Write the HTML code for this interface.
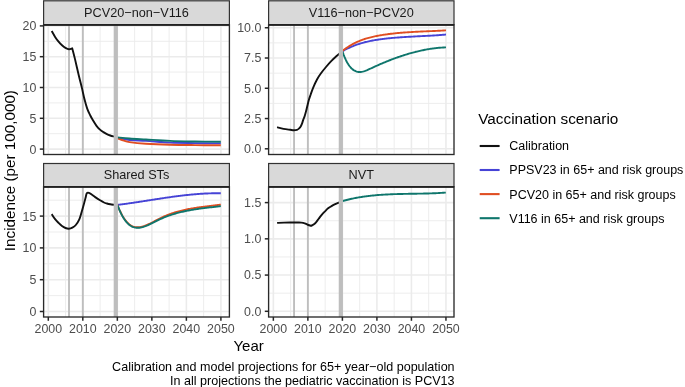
<!DOCTYPE html>
<html><head><meta charset="utf-8"><style>
html,body{margin:0;padding:0;background:#fff;width:685px;height:387px;overflow:hidden}
svg{filter:blur(0.3px)}
svg text{font-family:"Liberation Sans", sans-serif}
</style></head><body>
<svg width="685" height="387" viewBox="0 0 685 387" style="position:absolute;left:0;top:0">
<rect x="0" y="0" width="685" height="387" fill="#FFFFFF"/>
<clipPath id="clip00"><rect x="43.6" y="24.8" width="185.8" height="129.7"/></clipPath>
<g clip-path="url(#clip00)">
<line x1="43.6" x2="229.4" y1="133.70" y2="133.70" stroke="#EBEBEB" stroke-width="0.9"/>
<line x1="43.6" x2="229.4" y1="102.90" y2="102.90" stroke="#EBEBEB" stroke-width="0.9"/>
<line x1="43.6" x2="229.4" y1="72.10" y2="72.10" stroke="#EBEBEB" stroke-width="0.9"/>
<line x1="43.6" x2="229.4" y1="41.30" y2="41.30" stroke="#EBEBEB" stroke-width="0.9"/>
<line x1="65.56" x2="65.56" y1="24.8" y2="154.5" stroke="#EBEBEB" stroke-width="0.9"/>
<line x1="100.08" x2="100.08" y1="24.8" y2="154.5" stroke="#EBEBEB" stroke-width="0.9"/>
<line x1="134.60" x2="134.60" y1="24.8" y2="154.5" stroke="#EBEBEB" stroke-width="0.9"/>
<line x1="169.12" x2="169.12" y1="24.8" y2="154.5" stroke="#EBEBEB" stroke-width="0.9"/>
<line x1="203.64" x2="203.64" y1="24.8" y2="154.5" stroke="#EBEBEB" stroke-width="0.9"/>
<line x1="43.6" x2="229.4" y1="149.10" y2="149.10" stroke="#EBEBEB" stroke-width="1.6"/>
<line x1="43.6" x2="229.4" y1="118.30" y2="118.30" stroke="#EBEBEB" stroke-width="1.6"/>
<line x1="43.6" x2="229.4" y1="87.50" y2="87.50" stroke="#EBEBEB" stroke-width="1.6"/>
<line x1="43.6" x2="229.4" y1="56.70" y2="56.70" stroke="#EBEBEB" stroke-width="1.6"/>
<line x1="43.6" x2="229.4" y1="25.90" y2="25.90" stroke="#EBEBEB" stroke-width="1.6"/>
<line x1="48.30" x2="48.30" y1="24.8" y2="154.5" stroke="#EBEBEB" stroke-width="1.6"/>
<line x1="82.82" x2="82.82" y1="24.8" y2="154.5" stroke="#EBEBEB" stroke-width="1.6"/>
<line x1="117.34" x2="117.34" y1="24.8" y2="154.5" stroke="#EBEBEB" stroke-width="1.6"/>
<line x1="151.86" x2="151.86" y1="24.8" y2="154.5" stroke="#EBEBEB" stroke-width="1.6"/>
<line x1="186.38" x2="186.38" y1="24.8" y2="154.5" stroke="#EBEBEB" stroke-width="1.6"/>
<line x1="220.90" x2="220.90" y1="24.8" y2="154.5" stroke="#EBEBEB" stroke-width="1.6"/>
<line x1="69.01" x2="69.01" y1="24.8" y2="154.5" stroke="#BEBEBE" stroke-width="1.9"/>
<line x1="82.82" x2="82.82" y1="24.8" y2="154.5" stroke="#BEBEBE" stroke-width="1.9"/>
<path d="M51.70,31.00 C52.27,31.98 53.96,35.13 55.10,36.90 C56.24,38.67 57.41,40.20 58.56,41.60 C59.71,43.00 60.85,44.25 62.00,45.30 C63.15,46.35 64.31,47.23 65.46,47.90 C66.61,48.57 67.78,49.23 68.90,49.30 C70.02,49.37 71.65,48.47 72.20,48.30 L72.20,48.30 C72.67,50.10 73.90,54.57 75.00,59.10 C76.10,63.63 77.65,70.70 78.80,75.50 C79.95,80.30 80.95,83.93 81.90,87.90 C82.85,91.87 83.62,95.85 84.50,99.30 C85.38,102.75 86.23,105.90 87.20,108.60 C88.17,111.30 89.32,113.50 90.30,115.50 C91.28,117.50 92.07,118.88 93.10,120.60 C94.13,122.32 95.35,124.30 96.50,125.80 C97.65,127.30 98.85,128.55 100.00,129.60 C101.15,130.65 102.25,131.35 103.40,132.10 C104.55,132.85 105.75,133.53 106.90,134.10 C108.05,134.67 109.12,135.08 110.30,135.50 C111.48,135.92 113.38,136.42 114.00,136.60" fill="none" stroke="#111111" stroke-width="1.9" stroke-linejoin="round" stroke-linecap="butt"/>
<path d="M117.50,137.90 C119.50,138.25 124.75,139.50 129.50,140.00 C134.25,140.50 139.25,140.47 146.00,140.90 C152.75,141.33 161.83,142.23 170.00,142.60 C178.17,142.97 186.53,142.97 195.00,143.10 C203.47,143.23 216.50,143.35 220.80,143.40" fill="none" stroke="#4643D6" stroke-width="1.9" stroke-linejoin="round" stroke-linecap="butt"/>
<path d="M117.50,138.30 C118.58,138.68 122.00,139.97 124.00,140.60 C126.00,141.23 125.83,141.58 129.50,142.10 C133.17,142.62 139.25,143.27 146.00,143.70 C152.75,144.13 161.83,144.47 170.00,144.70 C178.17,144.93 186.53,145.00 195.00,145.10 C203.47,145.20 216.50,145.27 220.80,145.30" fill="none" stroke="#E04E22" stroke-width="1.9" stroke-linejoin="round" stroke-linecap="butt"/>
<path d="M117.50,137.40 C119.50,137.58 124.75,138.15 129.50,138.50 C134.25,138.85 139.25,139.10 146.00,139.50 C152.75,139.90 161.83,140.57 170.00,140.90 C178.17,141.23 186.53,141.35 195.00,141.50 C203.47,141.65 216.50,141.75 220.80,141.80" fill="none" stroke="#0F766C" stroke-width="1.9" stroke-linejoin="round" stroke-linecap="butt"/>
<rect x="113.69" y="24.8" width="4.2" height="129.7" fill="#BEBEBE"/>
</g>
<rect x="43.6" y="24.8" width="185.80" height="129.70" fill="none" stroke="#2A2A2A" stroke-width="1.35"/>
<rect x="43.6" y="0.8" width="185.80" height="24.00" fill="#D9D9D9" stroke="#333333" stroke-width="1.2"/>
<line x1="43.6" x2="229.4" y1="24.8" y2="24.8" stroke="#222222" stroke-width="1.8"/>
<text x="136.50" y="16.90" text-anchor="middle" font-size="12.7" fill="#1A1A1A">PCV20−non−V116</text>
<line x1="39.80" x2="43.6" y1="149.10" y2="149.10" stroke="#262626" stroke-width="1.5"/>
<text x="36.30" y="153.50" text-anchor="end" font-size="12.4" fill="#4D4D4D">0</text>
<line x1="39.80" x2="43.6" y1="118.30" y2="118.30" stroke="#262626" stroke-width="1.5"/>
<text x="36.30" y="122.70" text-anchor="end" font-size="12.4" fill="#4D4D4D">5</text>
<line x1="39.80" x2="43.6" y1="87.50" y2="87.50" stroke="#262626" stroke-width="1.5"/>
<text x="36.30" y="91.90" text-anchor="end" font-size="12.4" fill="#4D4D4D">10</text>
<line x1="39.80" x2="43.6" y1="56.70" y2="56.70" stroke="#262626" stroke-width="1.5"/>
<text x="36.30" y="61.10" text-anchor="end" font-size="12.4" fill="#4D4D4D">15</text>
<line x1="39.80" x2="43.6" y1="25.90" y2="25.90" stroke="#262626" stroke-width="1.5"/>
<text x="36.30" y="30.30" text-anchor="end" font-size="12.4" fill="#4D4D4D">20</text>
<clipPath id="clip01"><rect x="268.6" y="24.8" width="185.39999999999998" height="129.7"/></clipPath>
<g clip-path="url(#clip01)">
<line x1="268.6" x2="454.0" y1="133.67" y2="133.67" stroke="#EBEBEB" stroke-width="0.9"/>
<line x1="268.6" x2="454.0" y1="103.41" y2="103.41" stroke="#EBEBEB" stroke-width="0.9"/>
<line x1="268.6" x2="454.0" y1="73.14" y2="73.14" stroke="#EBEBEB" stroke-width="0.9"/>
<line x1="268.6" x2="454.0" y1="42.88" y2="42.88" stroke="#EBEBEB" stroke-width="0.9"/>
<line x1="290.61" x2="290.61" y1="24.8" y2="154.5" stroke="#EBEBEB" stroke-width="0.9"/>
<line x1="325.13" x2="325.13" y1="24.8" y2="154.5" stroke="#EBEBEB" stroke-width="0.9"/>
<line x1="359.65" x2="359.65" y1="24.8" y2="154.5" stroke="#EBEBEB" stroke-width="0.9"/>
<line x1="394.17" x2="394.17" y1="24.8" y2="154.5" stroke="#EBEBEB" stroke-width="0.9"/>
<line x1="428.69" x2="428.69" y1="24.8" y2="154.5" stroke="#EBEBEB" stroke-width="0.9"/>
<line x1="268.6" x2="454.0" y1="148.80" y2="148.80" stroke="#EBEBEB" stroke-width="1.6"/>
<line x1="268.6" x2="454.0" y1="118.54" y2="118.54" stroke="#EBEBEB" stroke-width="1.6"/>
<line x1="268.6" x2="454.0" y1="88.28" y2="88.28" stroke="#EBEBEB" stroke-width="1.6"/>
<line x1="268.6" x2="454.0" y1="58.01" y2="58.01" stroke="#EBEBEB" stroke-width="1.6"/>
<line x1="268.6" x2="454.0" y1="27.75" y2="27.75" stroke="#EBEBEB" stroke-width="1.6"/>
<line x1="273.35" x2="273.35" y1="24.8" y2="154.5" stroke="#EBEBEB" stroke-width="1.6"/>
<line x1="307.87" x2="307.87" y1="24.8" y2="154.5" stroke="#EBEBEB" stroke-width="1.6"/>
<line x1="342.39" x2="342.39" y1="24.8" y2="154.5" stroke="#EBEBEB" stroke-width="1.6"/>
<line x1="376.91" x2="376.91" y1="24.8" y2="154.5" stroke="#EBEBEB" stroke-width="1.6"/>
<line x1="411.43" x2="411.43" y1="24.8" y2="154.5" stroke="#EBEBEB" stroke-width="1.6"/>
<line x1="445.95" x2="445.95" y1="24.8" y2="154.5" stroke="#EBEBEB" stroke-width="1.6"/>
<line x1="294.06" x2="294.06" y1="24.8" y2="154.5" stroke="#BEBEBE" stroke-width="1.9"/>
<line x1="307.87" x2="307.87" y1="24.8" y2="154.5" stroke="#BEBEBE" stroke-width="1.9"/>
<path d="M277.10,127.20 C278.17,127.48 281.32,128.47 283.50,128.90 C285.68,129.33 288.47,129.58 290.20,129.80 C291.93,130.02 292.77,130.20 293.90,130.20 C295.03,130.20 296.17,130.07 297.00,129.80 C297.83,129.53 298.28,129.17 298.90,128.60 C299.52,128.03 300.18,127.23 300.70,126.40 C301.22,125.57 301.58,124.68 302.00,123.60 C302.42,122.52 302.78,121.07 303.20,119.90 C303.62,118.73 304.08,117.83 304.50,116.60 C304.92,115.37 305.32,113.90 305.70,112.50 C306.08,111.10 306.30,110.20 306.80,108.20 C307.30,106.20 308.07,102.75 308.70,100.50 C309.33,98.25 309.85,96.85 310.60,94.70 C311.35,92.55 312.13,90.13 313.20,87.60 C314.27,85.07 315.73,81.85 317.00,79.50 C318.27,77.15 319.30,75.58 320.80,73.50 C322.30,71.42 324.27,69.05 326.00,67.00 C327.73,64.95 329.48,62.98 331.20,61.20 C332.92,59.42 334.90,57.58 336.30,56.30 C337.70,55.02 338.73,54.22 339.60,53.50 C340.47,52.78 341.18,52.25 341.50,52.00" fill="none" stroke="#111111" stroke-width="1.9" stroke-linejoin="round" stroke-linecap="butt"/>
<path d="M342.60,51.15 L343.60,50.59 L344.61,50.04 L345.61,49.51 L346.62,48.99 L347.62,48.50 L348.62,48.02 L349.63,47.55 L350.63,47.11 L351.63,46.67 L352.64,46.26 L353.64,45.85 L354.65,45.46 L355.65,45.09 L356.65,44.73 L357.66,44.38 L358.66,44.05 L359.67,43.73 L360.67,43.42 L361.67,43.12 L362.68,42.83 L363.68,42.56 L364.69,42.29 L365.69,42.04 L366.69,41.80 L367.70,41.56 L368.70,41.34 L369.70,41.12 L370.71,40.92 L371.71,40.72 L372.72,40.53 L373.72,40.35 L374.72,40.17 L375.73,40.00 L376.73,39.84 L377.74,39.69 L378.74,39.54 L379.74,39.39 L380.75,39.26 L381.75,39.12 L382.76,39.00 L383.76,38.87 L384.76,38.75 L385.77,38.63 L386.77,38.52 L387.77,38.41 L388.78,38.31 L389.78,38.21 L390.79,38.11 L391.79,38.01 L392.79,37.92 L393.80,37.83 L394.80,37.75 L395.81,37.67 L396.81,37.59 L397.81,37.51 L398.82,37.43 L399.82,37.36 L400.83,37.29 L401.83,37.22 L402.83,37.16 L403.84,37.09 L404.84,37.03 L405.84,36.97 L406.85,36.91 L407.85,36.85 L408.86,36.79 L409.86,36.74 L410.86,36.68 L411.87,36.63 L412.87,36.58 L413.88,36.53 L414.88,36.48 L415.88,36.42 L416.89,36.37 L417.89,36.32 L418.90,36.27 L419.90,36.22 L420.90,36.17 L421.91,36.12 L422.91,36.07 L423.91,36.02 L424.92,35.97 L425.92,35.92 L426.93,35.87 L427.93,35.81 L428.93,35.76 L429.94,35.70 L430.94,35.64 L431.95,35.59 L432.95,35.53 L433.95,35.46 L434.96,35.40 L435.96,35.34 L436.97,35.27 L437.97,35.20 L438.97,35.13 L439.98,35.05 L440.98,34.98 L441.98,34.90 L442.99,34.82 L443.99,34.74 L445.00,34.65 L446.00,34.56" fill="none" stroke="#4643D6" stroke-width="1.9" stroke-linejoin="round" stroke-linecap="butt"/>
<path d="M342.60,50.86 L343.60,50.07 L344.61,49.32 L345.61,48.59 L346.62,47.88 L347.62,47.21 L348.62,46.55 L349.63,45.92 L350.63,45.32 L351.63,44.74 L352.64,44.18 L353.64,43.64 L354.65,43.13 L355.65,42.63 L356.65,42.16 L357.66,41.70 L358.66,41.27 L359.67,40.85 L360.67,40.45 L361.67,40.07 L362.68,39.70 L363.68,39.35 L364.69,39.02 L365.69,38.70 L366.69,38.39 L367.70,38.10 L368.70,37.82 L369.70,37.55 L370.71,37.30 L371.71,37.06 L372.72,36.82 L373.72,36.60 L374.72,36.38 L375.73,36.18 L376.73,35.98 L377.74,35.79 L378.74,35.60 L379.74,35.43 L380.75,35.26 L381.75,35.09 L382.76,34.93 L383.76,34.77 L384.76,34.62 L385.77,34.47 L386.77,34.33 L387.77,34.20 L388.78,34.06 L389.78,33.94 L390.79,33.81 L391.79,33.69 L392.79,33.58 L393.80,33.47 L394.80,33.36 L395.81,33.26 L396.81,33.16 L397.81,33.06 L398.82,32.97 L399.82,32.88 L400.83,32.79 L401.83,32.71 L402.83,32.63 L403.84,32.55 L404.84,32.47 L405.84,32.40 L406.85,32.33 L407.85,32.27 L408.86,32.20 L409.86,32.14 L410.86,32.08 L411.87,32.02 L412.87,31.96 L413.88,31.91 L414.88,31.85 L415.88,31.80 L416.89,31.75 L417.89,31.70 L418.90,31.65 L419.90,31.60 L420.90,31.56 L421.91,31.51 L422.91,31.47 L423.91,31.42 L424.92,31.38 L425.92,31.34 L426.93,31.29 L427.93,31.25 L428.93,31.21 L429.94,31.16 L430.94,31.12 L431.95,31.08 L432.95,31.03 L433.95,30.99 L434.96,30.94 L435.96,30.89 L436.97,30.85 L437.97,30.80 L438.97,30.75 L439.98,30.70 L440.98,30.65 L441.98,30.59 L442.99,30.54 L443.99,30.48 L445.00,30.42 L446.00,30.36" fill="none" stroke="#E04E22" stroke-width="1.9" stroke-linejoin="round" stroke-linecap="butt"/>
<path d="M342.60,51.75 L343.60,54.58 L344.61,57.13 L345.61,59.41 L346.62,61.46 L347.62,63.27 L348.62,64.87 L349.63,66.26 L350.63,67.47 L351.63,68.51 L352.64,69.39 L353.64,70.12 L354.65,70.72 L355.65,71.20 L356.65,71.55 L357.66,71.80 L358.66,71.94 L359.67,71.98 L360.67,71.94 L361.67,71.82 L362.68,71.63 L363.68,71.38 L364.69,71.07 L365.69,70.71 L366.69,70.32 L367.70,69.89 L368.70,69.44 L369.70,68.98 L370.71,68.51 L371.71,68.04 L372.72,67.57 L373.72,67.11 L374.72,66.65 L375.73,66.20 L376.73,65.74 L377.74,65.30 L378.74,64.85 L379.74,64.41 L380.75,63.98 L381.75,63.55 L382.76,63.12 L383.76,62.70 L384.76,62.28 L385.77,61.87 L386.77,61.46 L387.77,61.05 L388.78,60.65 L389.78,60.26 L390.79,59.86 L391.79,59.48 L392.79,59.10 L393.80,58.72 L394.80,58.35 L395.81,57.98 L396.81,57.62 L397.81,57.26 L398.82,56.91 L399.82,56.57 L400.83,56.23 L401.83,55.89 L402.83,55.56 L403.84,55.24 L404.84,54.92 L405.84,54.60 L406.85,54.30 L407.85,53.99 L408.86,53.70 L409.86,53.41 L410.86,53.12 L411.87,52.84 L412.87,52.57 L413.88,52.31 L414.88,52.05 L415.88,51.79 L416.89,51.55 L417.89,51.30 L418.90,51.07 L419.90,50.84 L420.90,50.62 L421.91,50.40 L422.91,50.20 L423.91,49.99 L424.92,49.80 L425.92,49.61 L426.93,49.43 L427.93,49.26 L428.93,49.09 L429.94,48.93 L430.94,48.78 L431.95,48.63 L432.95,48.49 L433.95,48.36 L434.96,48.24 L435.96,48.12 L436.97,48.01 L437.97,47.91 L438.97,47.82 L439.98,47.73 L440.98,47.65 L441.98,47.58 L442.99,47.52 L443.99,47.47 L445.00,47.42 L446.00,47.38" fill="none" stroke="#0F766C" stroke-width="1.9" stroke-linejoin="round" stroke-linecap="butt"/>
<rect x="338.74" y="24.8" width="4.2" height="129.7" fill="#BEBEBE"/>
</g>
<rect x="268.6" y="24.8" width="185.40" height="129.70" fill="none" stroke="#2A2A2A" stroke-width="1.35"/>
<rect x="268.6" y="0.8" width="185.40" height="24.00" fill="#D9D9D9" stroke="#333333" stroke-width="1.2"/>
<line x1="268.6" x2="454.0" y1="24.8" y2="24.8" stroke="#222222" stroke-width="1.8"/>
<text x="361.30" y="16.90" text-anchor="middle" font-size="12.7" fill="#1A1A1A">V116−non−PCV20</text>
<line x1="264.80" x2="268.6" y1="148.80" y2="148.80" stroke="#262626" stroke-width="1.5"/>
<text x="261.30" y="153.20" text-anchor="end" font-size="12.4" fill="#4D4D4D">0.0</text>
<line x1="264.80" x2="268.6" y1="118.54" y2="118.54" stroke="#262626" stroke-width="1.5"/>
<text x="261.30" y="122.94" text-anchor="end" font-size="12.4" fill="#4D4D4D">2.5</text>
<line x1="264.80" x2="268.6" y1="88.28" y2="88.28" stroke="#262626" stroke-width="1.5"/>
<text x="261.30" y="92.68" text-anchor="end" font-size="12.4" fill="#4D4D4D">5.0</text>
<line x1="264.80" x2="268.6" y1="58.01" y2="58.01" stroke="#262626" stroke-width="1.5"/>
<text x="261.30" y="62.41" text-anchor="end" font-size="12.4" fill="#4D4D4D">7.5</text>
<line x1="264.80" x2="268.6" y1="27.75" y2="27.75" stroke="#262626" stroke-width="1.5"/>
<text x="261.30" y="32.15" text-anchor="end" font-size="12.4" fill="#4D4D4D">10.0</text>
<clipPath id="clip10"><rect x="43.6" y="186.8" width="185.8" height="130.2"/></clipPath>
<g clip-path="url(#clip10)">
<line x1="43.6" x2="229.4" y1="295.60" y2="295.60" stroke="#EBEBEB" stroke-width="0.9"/>
<line x1="43.6" x2="229.4" y1="263.80" y2="263.80" stroke="#EBEBEB" stroke-width="0.9"/>
<line x1="43.6" x2="229.4" y1="232.00" y2="232.00" stroke="#EBEBEB" stroke-width="0.9"/>
<line x1="43.6" x2="229.4" y1="200.20" y2="200.20" stroke="#EBEBEB" stroke-width="0.9"/>
<line x1="65.56" x2="65.56" y1="186.8" y2="317.0" stroke="#EBEBEB" stroke-width="0.9"/>
<line x1="100.08" x2="100.08" y1="186.8" y2="317.0" stroke="#EBEBEB" stroke-width="0.9"/>
<line x1="134.60" x2="134.60" y1="186.8" y2="317.0" stroke="#EBEBEB" stroke-width="0.9"/>
<line x1="169.12" x2="169.12" y1="186.8" y2="317.0" stroke="#EBEBEB" stroke-width="0.9"/>
<line x1="203.64" x2="203.64" y1="186.8" y2="317.0" stroke="#EBEBEB" stroke-width="0.9"/>
<line x1="43.6" x2="229.4" y1="311.50" y2="311.50" stroke="#EBEBEB" stroke-width="1.6"/>
<line x1="43.6" x2="229.4" y1="279.70" y2="279.70" stroke="#EBEBEB" stroke-width="1.6"/>
<line x1="43.6" x2="229.4" y1="247.90" y2="247.90" stroke="#EBEBEB" stroke-width="1.6"/>
<line x1="43.6" x2="229.4" y1="216.10" y2="216.10" stroke="#EBEBEB" stroke-width="1.6"/>
<line x1="48.30" x2="48.30" y1="186.8" y2="317.0" stroke="#EBEBEB" stroke-width="1.6"/>
<line x1="82.82" x2="82.82" y1="186.8" y2="317.0" stroke="#EBEBEB" stroke-width="1.6"/>
<line x1="117.34" x2="117.34" y1="186.8" y2="317.0" stroke="#EBEBEB" stroke-width="1.6"/>
<line x1="151.86" x2="151.86" y1="186.8" y2="317.0" stroke="#EBEBEB" stroke-width="1.6"/>
<line x1="186.38" x2="186.38" y1="186.8" y2="317.0" stroke="#EBEBEB" stroke-width="1.6"/>
<line x1="220.90" x2="220.90" y1="186.8" y2="317.0" stroke="#EBEBEB" stroke-width="1.6"/>
<line x1="69.01" x2="69.01" y1="186.8" y2="317.0" stroke="#BEBEBE" stroke-width="1.9"/>
<line x1="82.82" x2="82.82" y1="186.8" y2="317.0" stroke="#BEBEBE" stroke-width="1.9"/>
<path d="M51.70,214.10 C52.27,214.95 53.96,217.73 55.10,219.20 C56.24,220.67 57.41,221.77 58.56,222.90 C59.71,224.03 60.85,225.15 62.00,226.00 C63.15,226.85 64.31,227.55 65.46,228.00 C66.61,228.45 67.74,228.77 68.90,228.70 C70.06,228.63 71.25,228.22 72.40,227.60 C73.55,226.98 74.65,226.38 75.80,225.00 C76.95,223.62 78.35,221.38 79.30,219.30 C80.25,217.22 80.80,214.78 81.50,212.50 C82.20,210.22 82.83,208.02 83.50,205.60 C84.17,203.18 84.95,200.05 85.50,198.00 C86.05,195.95 86.22,194.15 86.80,193.30 C87.38,192.45 88.13,192.67 89.00,192.90 C89.87,193.13 90.97,194.00 92.00,194.70 C93.03,195.40 93.87,196.18 95.20,197.10 C96.53,198.02 98.53,199.30 100.00,200.20 C101.47,201.10 102.85,201.95 104.00,202.50 C105.15,203.05 105.85,203.20 106.90,203.50 C107.95,203.80 109.12,204.08 110.30,204.30 C111.48,204.52 113.38,204.72 114.00,204.80" fill="none" stroke="#111111" stroke-width="1.9" stroke-linejoin="round" stroke-linecap="butt"/>
<path d="M117.50,204.90 L118.50,204.78 L119.51,204.65 L120.51,204.52 L121.51,204.39 L122.51,204.26 L123.52,204.13 L124.52,203.99 L125.52,203.85 L126.53,203.71 L127.53,203.57 L128.53,203.43 L129.53,203.29 L130.54,203.14 L131.54,203.00 L132.54,202.85 L133.55,202.70 L134.55,202.55 L135.55,202.40 L136.56,202.25 L137.56,202.10 L138.56,201.95 L139.56,201.79 L140.57,201.64 L141.57,201.49 L142.57,201.33 L143.58,201.17 L144.58,201.02 L145.58,200.86 L146.58,200.71 L147.59,200.55 L148.59,200.39 L149.59,200.24 L150.60,200.08 L151.60,199.92 L152.60,199.77 L153.60,199.61 L154.61,199.46 L155.61,199.30 L156.61,199.15 L157.62,198.99 L158.62,198.84 L159.62,198.69 L160.63,198.53 L161.63,198.38 L162.63,198.23 L163.63,198.08 L164.64,197.93 L165.64,197.79 L166.64,197.64 L167.65,197.49 L168.65,197.35 L169.65,197.21 L170.65,197.07 L171.66,196.93 L172.66,196.79 L173.66,196.65 L174.67,196.52 L175.67,196.38 L176.67,196.25 L177.67,196.12 L178.68,195.99 L179.68,195.87 L180.68,195.74 L181.69,195.62 L182.69,195.50 L183.69,195.39 L184.70,195.27 L185.70,195.16 L186.70,195.05 L187.70,194.94 L188.71,194.84 L189.71,194.74 L190.71,194.64 L191.72,194.54 L192.72,194.45 L193.72,194.36 L194.72,194.27 L195.73,194.18 L196.73,194.10 L197.73,194.02 L198.74,193.95 L199.74,193.88 L200.74,193.81 L201.74,193.75 L202.75,193.68 L203.75,193.63 L204.75,193.57 L205.76,193.52 L206.76,193.48 L207.76,193.44 L208.77,193.40 L209.77,193.36 L210.77,193.33 L211.77,193.31 L212.78,193.28 L213.78,193.27 L214.78,193.25 L215.79,193.25 L216.79,193.24 L217.79,193.24 L218.79,193.25 L219.80,193.26 L220.80,193.27" fill="none" stroke="#4643D6" stroke-width="1.9" stroke-linejoin="round" stroke-linecap="butt"/>
<path d="M117.50,204.95 L118.50,207.50 L119.51,209.86 L120.51,212.03 L121.51,214.04 L122.51,215.87 L123.52,217.54 L124.52,219.06 L125.52,220.42 L126.53,221.64 L127.53,222.72 L128.53,223.67 L129.53,224.49 L130.54,225.20 L131.54,225.79 L132.54,226.27 L133.55,226.65 L134.55,226.93 L135.55,227.13 L136.56,227.24 L137.56,227.28 L138.56,227.24 L139.56,227.14 L140.57,226.98 L141.57,226.77 L142.57,226.51 L143.58,226.21 L144.58,225.87 L145.58,225.50 L146.58,225.10 L147.59,224.67 L148.59,224.22 L149.59,223.75 L150.60,223.26 L151.60,222.76 L152.60,222.24 L153.60,221.72 L154.61,221.19 L155.61,220.66 L156.61,220.13 L157.62,219.60 L158.62,219.08 L159.62,218.57 L160.63,218.07 L161.63,217.58 L162.63,217.12 L163.63,216.66 L164.64,216.22 L165.64,215.79 L166.64,215.37 L167.65,214.97 L168.65,214.58 L169.65,214.21 L170.65,213.84 L171.66,213.49 L172.66,213.15 L173.66,212.82 L174.67,212.50 L175.67,212.19 L176.67,211.89 L177.67,211.60 L178.68,211.33 L179.68,211.06 L180.68,210.80 L181.69,210.55 L182.69,210.31 L183.69,210.08 L184.70,209.85 L185.70,209.64 L186.70,209.43 L187.70,209.23 L188.71,209.03 L189.71,208.85 L190.71,208.67 L191.72,208.49 L192.72,208.32 L193.72,208.16 L194.72,208.00 L195.73,207.84 L196.73,207.69 L197.73,207.55 L198.74,207.41 L199.74,207.27 L200.74,207.13 L201.74,207.00 L202.75,206.87 L203.75,206.75 L204.75,206.62 L205.76,206.50 L206.76,206.38 L207.76,206.26 L208.77,206.14 L209.77,206.02 L210.77,205.90 L211.77,205.78 L212.78,205.66 L213.78,205.54 L214.78,205.42 L215.79,205.30 L216.79,205.18 L217.79,205.05 L218.79,204.93 L219.80,204.80 L220.80,204.67" fill="none" stroke="#E04E22" stroke-width="1.9" stroke-linejoin="round" stroke-linecap="butt"/>
<path d="M117.50,205.14 L118.50,207.73 L119.51,210.13 L120.51,212.34 L121.51,214.38 L122.51,216.24 L123.52,217.94 L124.52,219.47 L125.52,220.86 L126.53,222.09 L127.53,223.19 L128.53,224.15 L129.53,224.99 L130.54,225.70 L131.54,226.30 L132.54,226.79 L133.55,227.17 L134.55,227.46 L135.55,227.66 L136.56,227.78 L137.56,227.82 L138.56,227.78 L139.56,227.69 L140.57,227.53 L141.57,227.33 L142.57,227.07 L143.58,226.78 L144.58,226.46 L145.58,226.10 L146.58,225.71 L147.59,225.30 L148.59,224.86 L149.59,224.41 L150.60,223.94 L151.60,223.45 L152.60,222.96 L153.60,222.45 L154.61,221.95 L155.61,221.44 L156.61,220.93 L157.62,220.43 L158.62,219.93 L159.62,219.45 L160.63,218.98 L161.63,218.52 L162.63,218.08 L163.63,217.65 L164.64,217.24 L165.64,216.84 L166.64,216.45 L167.65,216.08 L168.65,215.72 L169.65,215.37 L170.65,215.03 L171.66,214.70 L172.66,214.38 L173.66,214.08 L174.67,213.78 L175.67,213.49 L176.67,213.21 L177.67,212.94 L178.68,212.68 L179.68,212.42 L180.68,212.17 L181.69,211.93 L182.69,211.70 L183.69,211.48 L184.70,211.26 L185.70,211.05 L186.70,210.84 L187.70,210.64 L188.71,210.45 L189.71,210.26 L190.71,210.08 L191.72,209.91 L192.72,209.74 L193.72,209.57 L194.72,209.41 L195.73,209.25 L196.73,209.10 L197.73,208.95 L198.74,208.81 L199.74,208.67 L200.74,208.53 L201.74,208.40 L202.75,208.27 L203.75,208.14 L204.75,208.01 L205.76,207.89 L206.76,207.77 L207.76,207.65 L208.77,207.53 L209.77,207.41 L210.77,207.30 L211.77,207.19 L212.78,207.07 L213.78,206.96 L214.78,206.85 L215.79,206.73 L216.79,206.62 L217.79,206.51 L218.79,206.40 L219.80,206.28 L220.80,206.17" fill="none" stroke="#0F766C" stroke-width="1.9" stroke-linejoin="round" stroke-linecap="butt"/>
<rect x="113.69" y="186.8" width="4.2" height="130.2" fill="#BEBEBE"/>
</g>
<rect x="43.6" y="186.8" width="185.80" height="130.20" fill="none" stroke="#2A2A2A" stroke-width="1.35"/>
<rect x="43.6" y="163.5" width="185.80" height="23.30" fill="#D9D9D9" stroke="#333333" stroke-width="1.2"/>
<line x1="43.6" x2="229.4" y1="186.8" y2="186.8" stroke="#222222" stroke-width="1.8"/>
<text x="136.50" y="178.90" text-anchor="middle" font-size="12.7" fill="#1A1A1A">Shared STs</text>
<line x1="39.80" x2="43.6" y1="311.50" y2="311.50" stroke="#262626" stroke-width="1.5"/>
<text x="36.30" y="315.90" text-anchor="end" font-size="12.4" fill="#4D4D4D">0</text>
<line x1="39.80" x2="43.6" y1="279.70" y2="279.70" stroke="#262626" stroke-width="1.5"/>
<text x="36.30" y="284.10" text-anchor="end" font-size="12.4" fill="#4D4D4D">5</text>
<line x1="39.80" x2="43.6" y1="247.90" y2="247.90" stroke="#262626" stroke-width="1.5"/>
<text x="36.30" y="252.30" text-anchor="end" font-size="12.4" fill="#4D4D4D">10</text>
<line x1="39.80" x2="43.6" y1="216.10" y2="216.10" stroke="#262626" stroke-width="1.5"/>
<text x="36.30" y="220.50" text-anchor="end" font-size="12.4" fill="#4D4D4D">15</text>
<line x1="48.30" x2="48.30" y1="317.0" y2="320.80" stroke="#262626" stroke-width="1.5"/>
<text x="48.30" y="333.4" text-anchor="middle" font-size="12.4" fill="#4D4D4D">2000</text>
<line x1="82.82" x2="82.82" y1="317.0" y2="320.80" stroke="#262626" stroke-width="1.5"/>
<text x="82.82" y="333.4" text-anchor="middle" font-size="12.4" fill="#4D4D4D">2010</text>
<line x1="117.34" x2="117.34" y1="317.0" y2="320.80" stroke="#262626" stroke-width="1.5"/>
<text x="117.34" y="333.4" text-anchor="middle" font-size="12.4" fill="#4D4D4D">2020</text>
<line x1="151.86" x2="151.86" y1="317.0" y2="320.80" stroke="#262626" stroke-width="1.5"/>
<text x="151.86" y="333.4" text-anchor="middle" font-size="12.4" fill="#4D4D4D">2030</text>
<line x1="186.38" x2="186.38" y1="317.0" y2="320.80" stroke="#262626" stroke-width="1.5"/>
<text x="186.38" y="333.4" text-anchor="middle" font-size="12.4" fill="#4D4D4D">2040</text>
<line x1="220.90" x2="220.90" y1="317.0" y2="320.80" stroke="#262626" stroke-width="1.5"/>
<text x="220.90" y="333.4" text-anchor="middle" font-size="12.4" fill="#4D4D4D">2050</text>
<clipPath id="clip11"><rect x="268.6" y="186.8" width="185.39999999999998" height="130.2"/></clipPath>
<g clip-path="url(#clip11)">
<line x1="268.6" x2="454.0" y1="293.18" y2="293.18" stroke="#EBEBEB" stroke-width="0.9"/>
<line x1="268.6" x2="454.0" y1="256.95" y2="256.95" stroke="#EBEBEB" stroke-width="0.9"/>
<line x1="268.6" x2="454.0" y1="220.72" y2="220.72" stroke="#EBEBEB" stroke-width="0.9"/>
<line x1="290.61" x2="290.61" y1="186.8" y2="317.0" stroke="#EBEBEB" stroke-width="0.9"/>
<line x1="325.13" x2="325.13" y1="186.8" y2="317.0" stroke="#EBEBEB" stroke-width="0.9"/>
<line x1="359.65" x2="359.65" y1="186.8" y2="317.0" stroke="#EBEBEB" stroke-width="0.9"/>
<line x1="394.17" x2="394.17" y1="186.8" y2="317.0" stroke="#EBEBEB" stroke-width="0.9"/>
<line x1="428.69" x2="428.69" y1="186.8" y2="317.0" stroke="#EBEBEB" stroke-width="0.9"/>
<line x1="268.6" x2="454.0" y1="311.30" y2="311.30" stroke="#EBEBEB" stroke-width="1.6"/>
<line x1="268.6" x2="454.0" y1="275.07" y2="275.07" stroke="#EBEBEB" stroke-width="1.6"/>
<line x1="268.6" x2="454.0" y1="238.83" y2="238.83" stroke="#EBEBEB" stroke-width="1.6"/>
<line x1="268.6" x2="454.0" y1="202.60" y2="202.60" stroke="#EBEBEB" stroke-width="1.6"/>
<line x1="273.35" x2="273.35" y1="186.8" y2="317.0" stroke="#EBEBEB" stroke-width="1.6"/>
<line x1="307.87" x2="307.87" y1="186.8" y2="317.0" stroke="#EBEBEB" stroke-width="1.6"/>
<line x1="342.39" x2="342.39" y1="186.8" y2="317.0" stroke="#EBEBEB" stroke-width="1.6"/>
<line x1="376.91" x2="376.91" y1="186.8" y2="317.0" stroke="#EBEBEB" stroke-width="1.6"/>
<line x1="411.43" x2="411.43" y1="186.8" y2="317.0" stroke="#EBEBEB" stroke-width="1.6"/>
<line x1="445.95" x2="445.95" y1="186.8" y2="317.0" stroke="#EBEBEB" stroke-width="1.6"/>
<line x1="294.06" x2="294.06" y1="186.8" y2="317.0" stroke="#BEBEBE" stroke-width="1.9"/>
<line x1="307.87" x2="307.87" y1="186.8" y2="317.0" stroke="#BEBEBE" stroke-width="1.9"/>
<path d="M277.10,222.90 C278.25,222.85 281.70,222.67 284.00,222.60 C286.30,222.53 288.60,222.52 290.90,222.50 C293.20,222.48 296.07,222.48 297.80,222.50 C299.53,222.52 300.15,222.47 301.30,222.60 C302.45,222.73 303.55,222.90 304.70,223.30 C305.85,223.70 307.10,224.57 308.20,225.00 C309.30,225.43 310.78,225.75 311.30,225.90 L311.30,225.90 C311.95,225.45 314.00,224.35 315.20,223.20 C316.40,222.05 317.42,220.40 318.50,219.00 C319.58,217.60 320.62,216.08 321.70,214.80 C322.78,213.52 323.93,212.38 325.00,211.30 C326.07,210.22 327.02,209.17 328.10,208.30 C329.18,207.43 330.42,206.75 331.50,206.10 C332.58,205.45 333.52,204.92 334.60,204.40 C335.68,203.88 337.10,203.35 338.00,203.00 C338.90,202.65 339.67,202.42 340.00,202.30" fill="none" stroke="#111111" stroke-width="1.9" stroke-linejoin="round" stroke-linecap="butt"/>
<path d="M342.60,201.02 L343.60,200.74 L344.60,200.48 L345.61,200.21 L346.61,199.96 L347.61,199.71 L348.61,199.47 L349.61,199.24 L350.62,199.01 L351.62,198.79 L352.62,198.58 L353.62,198.37 L354.62,198.17 L355.63,197.98 L356.63,197.79 L357.63,197.61 L358.63,197.43 L359.63,197.26 L360.63,197.10 L361.64,196.94 L362.64,196.79 L363.64,196.64 L364.64,196.50 L365.64,196.36 L366.65,196.23 L367.65,196.10 L368.65,195.98 L369.65,195.86 L370.65,195.75 L371.66,195.64 L372.66,195.53 L373.66,195.43 L374.66,195.34 L375.66,195.25 L376.67,195.16 L377.67,195.07 L378.67,194.99 L379.67,194.92 L380.67,194.85 L381.68,194.78 L382.68,194.71 L383.68,194.65 L384.68,194.59 L385.68,194.53 L386.69,194.48 L387.69,194.43 L388.69,194.38 L389.69,194.33 L390.69,194.29 L391.70,194.25 L392.70,194.21 L393.70,194.17 L394.70,194.14 L395.70,194.11 L396.70,194.08 L397.71,194.05 L398.71,194.02 L399.71,194.00 L400.71,193.97 L401.71,193.95 L402.72,193.93 L403.72,193.91 L404.72,193.89 L405.72,193.87 L406.72,193.85 L407.73,193.83 L408.73,193.82 L409.73,193.80 L410.73,193.78 L411.73,193.77 L412.74,193.75 L413.74,193.74 L414.74,193.72 L415.74,193.71 L416.74,193.69 L417.75,193.67 L418.75,193.65 L419.75,193.64 L420.75,193.62 L421.75,193.60 L422.76,193.58 L423.76,193.56 L424.76,193.53 L425.76,193.51 L426.76,193.49 L427.77,193.46 L428.77,193.43 L429.77,193.40 L430.77,193.37 L431.77,193.33 L432.77,193.30 L433.78,193.26 L434.78,193.22 L435.78,193.18 L436.78,193.13 L437.78,193.08 L438.79,193.03 L439.79,192.98 L440.79,192.92 L441.79,192.86 L442.79,192.80 L443.80,192.74 L444.80,192.67 L445.80,192.60" fill="none" stroke="#0F766C" stroke-width="1.9" stroke-linejoin="round" stroke-linecap="butt"/>
<rect x="338.74" y="186.8" width="4.2" height="130.2" fill="#BEBEBE"/>
</g>
<rect x="268.6" y="186.8" width="185.40" height="130.20" fill="none" stroke="#2A2A2A" stroke-width="1.35"/>
<rect x="268.6" y="163.5" width="185.40" height="23.30" fill="#D9D9D9" stroke="#333333" stroke-width="1.2"/>
<line x1="268.6" x2="454.0" y1="186.8" y2="186.8" stroke="#222222" stroke-width="1.8"/>
<text x="361.30" y="178.90" text-anchor="middle" font-size="12.7" fill="#1A1A1A">NVT</text>
<line x1="264.80" x2="268.6" y1="311.30" y2="311.30" stroke="#262626" stroke-width="1.5"/>
<text x="261.30" y="315.70" text-anchor="end" font-size="12.4" fill="#4D4D4D">0.0</text>
<line x1="264.80" x2="268.6" y1="275.07" y2="275.07" stroke="#262626" stroke-width="1.5"/>
<text x="261.30" y="279.47" text-anchor="end" font-size="12.4" fill="#4D4D4D">0.5</text>
<line x1="264.80" x2="268.6" y1="238.83" y2="238.83" stroke="#262626" stroke-width="1.5"/>
<text x="261.30" y="243.23" text-anchor="end" font-size="12.4" fill="#4D4D4D">1.0</text>
<line x1="264.80" x2="268.6" y1="202.60" y2="202.60" stroke="#262626" stroke-width="1.5"/>
<text x="261.30" y="207.00" text-anchor="end" font-size="12.4" fill="#4D4D4D">1.5</text>
<line x1="273.35" x2="273.35" y1="317.0" y2="320.80" stroke="#262626" stroke-width="1.5"/>
<text x="273.35" y="333.4" text-anchor="middle" font-size="12.4" fill="#4D4D4D">2000</text>
<line x1="307.87" x2="307.87" y1="317.0" y2="320.80" stroke="#262626" stroke-width="1.5"/>
<text x="307.87" y="333.4" text-anchor="middle" font-size="12.4" fill="#4D4D4D">2010</text>
<line x1="342.39" x2="342.39" y1="317.0" y2="320.80" stroke="#262626" stroke-width="1.5"/>
<text x="342.39" y="333.4" text-anchor="middle" font-size="12.4" fill="#4D4D4D">2020</text>
<line x1="376.91" x2="376.91" y1="317.0" y2="320.80" stroke="#262626" stroke-width="1.5"/>
<text x="376.91" y="333.4" text-anchor="middle" font-size="12.4" fill="#4D4D4D">2030</text>
<line x1="411.43" x2="411.43" y1="317.0" y2="320.80" stroke="#262626" stroke-width="1.5"/>
<text x="411.43" y="333.4" text-anchor="middle" font-size="12.4" fill="#4D4D4D">2040</text>
<line x1="445.95" x2="445.95" y1="317.0" y2="320.80" stroke="#262626" stroke-width="1.5"/>
<text x="445.95" y="333.4" text-anchor="middle" font-size="12.4" fill="#4D4D4D">2050</text>
<text x="248.6" y="350.5" text-anchor="middle" font-size="15" fill="#000000">Year</text>
<text transform="translate(14.9,170.6) rotate(-90)" x="0" y="0" text-anchor="middle" font-size="15.25" fill="#000000">Incidence (per 100,000)</text>
<text x="478.3" y="124.1" font-size="15.3" fill="#000000">Vaccination scenario</text>
<line x1="479.7" x2="499.6" y1="146.0" y2="146.0" stroke="#111111" stroke-width="2.1"/>
<text x="509.3" y="150.40" font-size="12.5" fill="#000000">Calibration</text>
<line x1="479.7" x2="499.6" y1="170.0" y2="170.0" stroke="#4643D6" stroke-width="2.1"/>
<text x="509.3" y="174.40" font-size="12.5" fill="#000000">PPSV23 in 65+ and risk groups</text>
<line x1="479.7" x2="499.6" y1="194.1" y2="194.1" stroke="#E04E22" stroke-width="2.1"/>
<text x="509.3" y="198.50" font-size="12.5" fill="#000000">PCV20 in 65+ and risk groups</text>
<line x1="479.7" x2="499.6" y1="218.2" y2="218.2" stroke="#0F766C" stroke-width="2.1"/>
<text x="509.3" y="222.60" font-size="12.5" fill="#000000">V116 in 65+ and risk groups</text>
<text x="454.6" y="371.0" text-anchor="end" font-size="12.55" fill="#000000">Calibration and model projections for 65+ year−old population</text>
<text x="454.6" y="384.5" text-anchor="end" font-size="12.55" fill="#000000">In all projections the pediatric vaccination is PCV13</text>
</svg>
</body></html>
